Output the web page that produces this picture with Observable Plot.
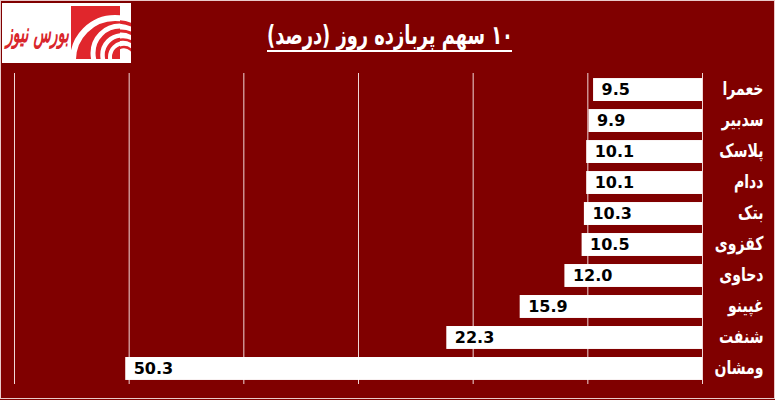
<!DOCTYPE html>
<html><head><meta charset="utf-8">
<script src="https://cdn.jsdelivr.net/npm/d3@7"></script>
<script src="https://cdn.jsdelivr.net/npm/@observablehq/plot@0.6"></script>
<style>
html,body{margin:0;padding:0;background:#800000;overflow:hidden;}
#wrap{position:relative;width:775px;height:400px;background:#800000;overflow:hidden;}
#border{position:absolute;left:0;top:0;width:775px;height:399px;box-sizing:border-box;border:1px solid #e9c9c9;pointer-events:none;z-index:5;}
#header{position:relative;height:70px;}
#logo{position:absolute;left:2px;top:3px;width:129px;height:60px;background:#fff;overflow:hidden;}
#logotext{position:absolute;left:4px;top:13px;white-space:nowrap;direction:rtl;font-family:"DejaVu Sans";font-weight:bold;font-style:italic;font-size:20px;color:#d9262c;transform-origin:0 0;}
#title{position:absolute;left:267px;top:20px;white-space:nowrap;direction:rtl;font-family:"DejaVu Sans";font-weight:bold;font-size:25px;line-height:30px;color:#fff;transform-origin:0 0;}
#uline{position:absolute;left:267px;top:50px;width:245px;height:2px;background:#fff;}
#chart svg{display:block;}
</style>
</head><body>
<div id="wrap">
  <div id="header">
    <div id="logo">
      <svg width="129" height="60" viewBox="0 0 129 60">
        <defs>
          <clipPath id="sq"><rect x="69" y="3" width="49" height="53"/></clipPath>
          <clipPath id="out"><rect x="118" y="3" width="11" height="53"/></clipPath>
        </defs>
        <rect x="69" y="3" width="49" height="53" fill="#e0262c"/>
        <g fill="none" stroke="#fff" clip-path="url(#sq)">
          <circle cx="113" cy="57" r="42" stroke-width="6"/>
          <circle cx="118" cy="50" r="27" stroke-width="5"/>
          <circle cx="120" cy="52" r="19.5" stroke-width="4.5"/>
          <circle cx="122" cy="54" r="14" stroke-width="4"/>
        </g>
        <g fill="none" stroke="#e0262c" clip-path="url(#out)">
          <circle cx="115.5" cy="53.5" r="34.5" stroke-width="3.5"/>
          <circle cx="119" cy="51" r="23" stroke-width="3"/>
          <circle cx="121" cy="53" r="16.5" stroke-width="2.5"/>
          <circle cx="122" cy="54" r="10" stroke-width="2.5"/>
        </g>
      </svg>
      <div id="logotext">بورس نیوز</div>
    </div>
    <div id="title">۱۰ سهم پربازده روز (درصد)</div>
    <div id="uline"></div>
  </div>
  <div id="chart"></div>
  <div id="border"></div>
</div>
<script>
const names = ["خعمرا", "سدبیر", "پلاسک", "ددام", "بتک", "کقزوی", "دحاوی", "غپینو", "شنفت", "ومشان"];
const values = [9.5, 9.9, 10.1, 10.1, 10.3, 10.5, 12.0, 15.9, 22.3, 50.3];
const gridTicks = [0, 10, 20, 30, 40, 50, 60];

const data = names.map((name, i) => ({name, value: values[i]}));

const chart = Plot.plot({
  width: 775,
  height: 330,
  marginTop: 0,
  marginBottom: 12,
  marginLeft: 14,
  marginRight: 73,
  style: {background: "transparent", fontFamily: "DejaVu Sans", overflow: "visible"},
  x: {domain: [0, 60], reverse: true, axis: null},
  y: {domain: names, axis: null, padding: 0.26, round: false},
  marks: [
    Plot.ruleX(gridTicks, {stroke: "#f0d6d6", strokeWidth: 1, insetTop: 3, insetBottom: 4}),
    Plot.barX(data, {x: "value", y: "name", fill: "#ffffff"}),
    Plot.text(data, {x: "value", y: "name", text: d => d.value.toFixed(1), textAnchor: "start", dx: 8, fill: "#000", fontWeight: "bold", fontSize: 16}),
    Plot.text(data, {x: () => 0, y: "name", text: "name", textAnchor: "end", dx: 61, dy: -1, fill: "#fff", fontWeight: "bold", fontSize: 19})
  ]
});
document.getElementById("chart").appendChild(chart);

// compress the Persian labels horizontally so they take the same room as in the reference
const textGroups = chart.querySelectorAll('g[aria-label="text"]');
const nameGroup = textGroups[textGroups.length - 1];
nameGroup.querySelectorAll("text").forEach(t => {
  const tr = t.getAttribute("transform");
  if (tr) t.setAttribute("transform", tr + " scale(0.74,1)");
});

// fit title and logo text
function fit(el, w, sy) {
  const r = el.getBoundingClientRect();
  el.style.transform = `scale(${w / r.width},${sy})`;
}
fit(document.getElementById("title"), 246, 1.05);
fit(document.getElementById("logotext"), 63, 1.35);
</script>
</body></html>
